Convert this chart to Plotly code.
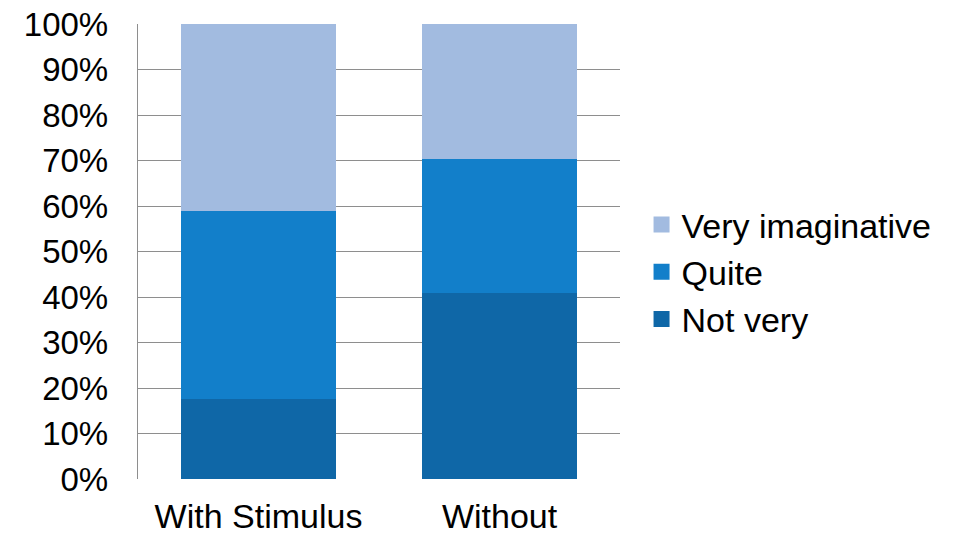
import plotly.graph_objects as go

# Share of responses by condition (percent)
conditions = ["With Stimulus", "Without"]
not_very = [17.6, 40.8]
quite = [41.4, 29.6]
very_imaginative = [41.0, 29.6]

y_ticks = list(range(0, 101, 10))
y_tick_labels = [f"{v}%" for v in y_ticks]

FONT = "Liberation Sans, Arial, sans-serif"

series = [
    ("Not very", not_very, "#0F67A7"),
    ("Quite", quite, "#127FCA"),
    ("Very imaginative", very_imaginative, "#A2BBE0"),
]

fig = go.Figure()
for name, values, color in series:
    fig.add_trace(go.Bar(name=name, x=conditions, y=values, showlegend=False,
                         legendgroup=name,
                         marker=dict(color=color, line=dict(width=0))))
# Larger square swatches for the legend
for name, values, color in series:
    fig.add_trace(go.Scatter(name=name, x=[None], y=[None], mode="markers",
                             legendgroup=name,
                             marker=dict(symbol="square", size=17, color=color)))

fig.update_layout(
    width=961, height=535,
    barmode="stack", bargap=0.355,
    plot_bgcolor="white", paper_bgcolor="white",
    margin=dict(l=138, r=341, t=24, b=56),
    font=dict(family=FONT, size=33, color="black"),
    showlegend=True,
    legend=dict(
        traceorder="reversed",
        x=1.0447, xanchor="left", xref="paper",
        y=0.455, yanchor="middle",
        font=dict(family=FONT, size=34, color="black"),
        bgcolor="rgba(0,0,0,0)",
    ),
    xaxis=dict(
        range=[-0.5, 1.5], automargin=False,
        showgrid=False, zeroline=False,
        showline=False,
        ticks="", ticklabelstandoff=14,
        tickfont=dict(family=FONT, size=34, color="black"),
    ),
    yaxis=dict(
        range=[0, 100], tickvals=y_ticks, ticktext=y_tick_labels,
        automargin=False,
        showgrid=True, gridcolor="#8E8E8E", gridwidth=1.4,
        zeroline=False,
        showline=True, linecolor="#8E8E8E", linewidth=1.4,
        ticks="", ticklabelstandoff=22,
        tickfont=dict(family=FONT, size=33, color="black"),
    ),
)

fig.write_html("out.html")
